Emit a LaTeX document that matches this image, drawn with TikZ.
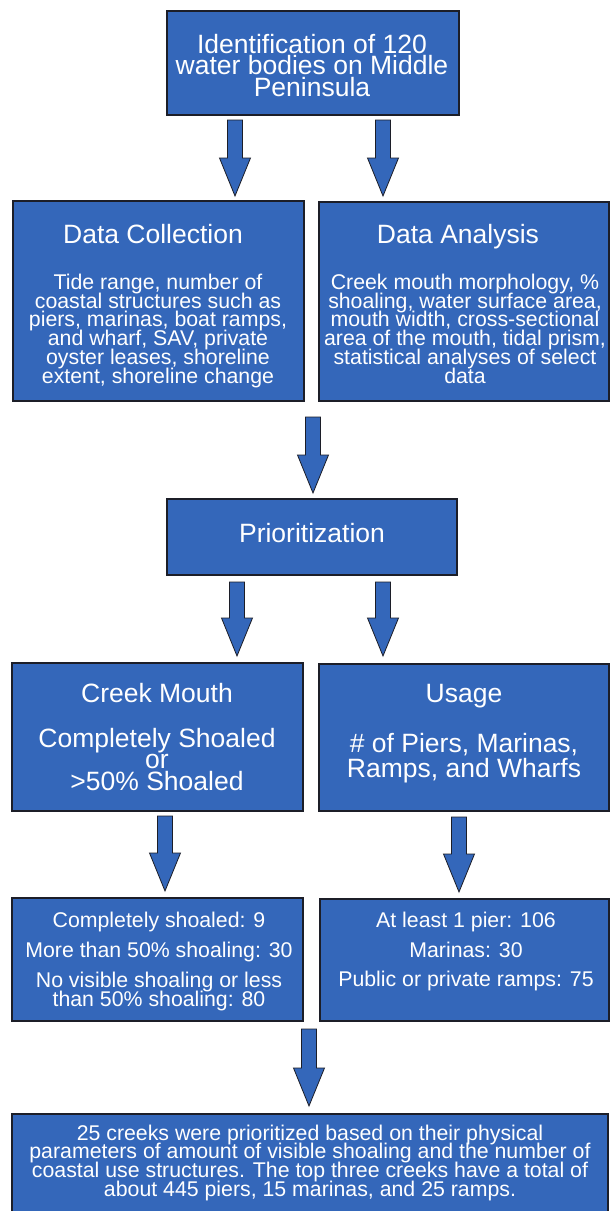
\documentclass[tikz,border=0pt]{standalone}
\usepackage{fontspec}
\setmainfont{Liberation Sans}
\usetikzlibrary{calc}
\definecolor{boxblue}{RGB}{52,103,186}
\definecolor{edgecol}{RGB}{28,30,40}
\newcommand\blockarrow[2]{%
  \draw[barrow] ($(#1)+(-7.5,0)$) -- ($(#1)+(7.5,0)$) -- ($(#2)+(7.5,-38)$)
    -- ($(#2)+(15.5,-38)$) -- (#2) -- ($(#2)+(-15.5,-38)$)
    -- ($(#2)+(-7.5,-38)$) -- cycle;}
\begin{document}
\begin{tikzpicture}[x=1pt,y=-1pt,
  box/.style={draw=edgecol, line width=1.5pt, fill=boxblue},
  barrow/.style={draw=edgecol, line width=0.8pt, fill=boxblue, line join=miter},
  ttl/.style={text=white, font=\fontsize{26.5}{26.5}\selectfont, anchor=base, inner sep=0pt, text height=15pt, text depth=4pt},
  bdy/.style={text=white, font=\fontsize{21.3}{21.3}\selectfont, anchor=base, inner sep=0pt, text height=12pt, text depth=3pt}]
\useasboundingbox (0,0) rectangle (610,1211);
\fill[white] (0,0) rectangle (610,1211);

% boxes
\draw[box] (167,11) rectangle (459,115);
\draw[box] (13,201) rectangle (304,401);
\draw[box] (319,202) rectangle (609,401);
\draw[box] (167,499) rectangle (457,575);
\draw[box] (12,663) rectangle (303,811);
\draw[box] (319,664) rectangle (609,811);
\draw[box] (12,898) rectangle (303,1021);
\draw[box] (320,899) rectangle (609,1021);
\fill[boxblue] (12,1114) rectangle (608,1220);
\draw[edgecol, line width=1.5pt] (12,1220) -- (12,1114) -- (608,1114) -- (608,1220);

% top box text
\node[ttl] (t1) at (312,53) {Identification of 120};
\node[ttl] (t2) at (312,74.5) {water bodies on Middle};
\node[ttl] (t3) at (312,96.5) {Peninsula};

% data collection
\node[ttl] (dct) at (153,243) {Data Collection};
\foreach \s [count=\i] in {{Tide range, number of},{coastal structures such as},{piers, marinas, boat ramps,},{and wharf, SAV, private},{oyster leases, shoreline},{extent, shoreline change}}
  \node[bdy] (dc\i) at (158,{289.3+18.8*(\i-1)}) {\s};

% data analysis
\node[ttl] (dat) at (458,243) {Data Analysis};
\foreach \s [count=\i] in {{Creek mouth morphology, \%},{shoaling, water surface area,},{mouth width, cross-sectional},{area of the mouth, tidal prism,},{statistical analyses of select},{data}}
  \node[bdy] (da\i) at (465,{289.3+18.8*(\i-1)}) {\s};

% prioritization
\node[ttl] (pr) at (312,542) {Prioritization};

% creek mouth
\node[ttl] (cm1) at (157,702) {Creek Mouth};
\node[ttl] (cm2) at (157,747) {Completely Shoaled};
\node[ttl] (cm3) at (157,768.5) {or};
\node[ttl] (cm4) at (157,790) {>50\% Shoaled};

% usage
\node[ttl] (us1) at (464,702) {Usage};
\node[ttl] (us2) at (464,752) {\# of Piers, Marinas,};
\node[ttl] (us3) at (464,777.5) {Ramps, and Wharfs};

% results left
\node[bdy] (rl1) at (159,927) {Completely shoaled: 9};
\node[bdy] (rl2) at (159,957) {More than 50\% shoaling: 30};
\node[bdy] (rl3) at (159,987) {No visible shoaling or less};
\node[bdy] (rl4) at (159,1006) {than 50\% shoaling: 80};

% results right
\node[bdy] (rr1) at (466,927) {At least 1 pier: 106};
\node[bdy] (rr2) at (466,957) {Marinas: 30};
\node[bdy] (rr3) at (466,986) {Public or private ramps: 75};

% bottom
\node[bdy] (b1) at (310,1140) {25 creeks were prioritized based on their physical};
\node[bdy] (b2) at (310,1158.7) {parameters of amount of visible shoaling and the number of};
\node[bdy] (b3) at (310,1177.4) {coastal use structures. The top three creeks have a total of};
\node[bdy] (b4) at (310,1196) {about 445 piers, 15 marinas, and 25 ramps.};

% arrows
\coordinate (a1s) at (235,120); \coordinate (a1e) at (235,196);
\coordinate (a2s) at (383,120); \coordinate (a2e) at (383,196);
\coordinate (a3s) at (313,417); \coordinate (a3e) at (313,493);
\coordinate (a4s) at (237,582); \coordinate (a4e) at (237,656);
\coordinate (a5s) at (383,582); \coordinate (a5e) at (383,656);
\coordinate (a6s) at (165,816); \coordinate (a6e) at (165,891);
\coordinate (a7s) at (459,817); \coordinate (a7e) at (459,892);
\coordinate (a8s) at (309,1029); \coordinate (a8e) at (309,1106);
\foreach \k in {1,...,8} \blockarrow{a\k s}{a\k e};
\end{tikzpicture}
\end{document}
